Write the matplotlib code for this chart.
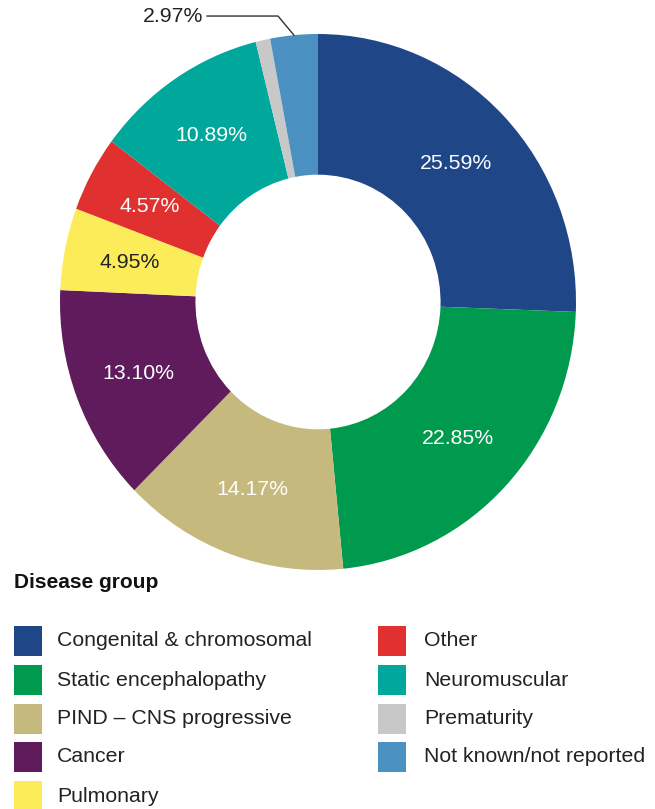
import matplotlib
matplotlib.use('Agg')
import matplotlib.pyplot as plt
import numpy as np
from matplotlib.patches import Rectangle

plt.rcParams['font.family'] = ['Liberation Sans', 'DejaVu Sans']

W, H = 655, 809

groups = ['Congenital & chromosomal', 'Static encephalopathy',
          'PIND \u2013 CNS progressive', 'Cancer', 'Pulmonary', 'Other',
          'Neuromuscular', 'Prematurity', 'Not known/not reported']
shares = [25.59, 22.85, 14.17, 13.10, 4.95, 4.57, 10.89, 0.91, 2.97]
colors = ['#1f4788', '#009a4e', '#c6b97e', '#5f1b5c', '#fcec5a',
          '#e0302f', '#00a89c', '#c8c8c8', '#4a90c0']
label_colors = ['white', 'white', 'white', 'white', '#222222',
                'white', 'white', None, None]


def fx(x):
    return x / W


def fy(y):
    return 1 - y / H


fig = plt.figure(figsize=(W / 100, H / 100), dpi=100)
ax = fig.add_axes([fx(60), fy(570), 516 / W, 536 / H])

wedges, _ = ax.pie(shares, colors=colors, startangle=90, counterclock=False,
                   radius=1, wedgeprops=dict(width=0.525, linewidth=0))
ax.set_aspect('auto')
ax.set_xlim(-1, 1)
ax.set_ylim(-1, 1)
ax.axis('off')

for w, val, lc in zip(wedges, shares, label_colors):
    mid = np.deg2rad((w.theta1 + w.theta2) / 2)
    if lc is not None:
        ax.text(0.745 * np.cos(mid), 0.745 * np.sin(mid), f'{val:.2f}%',
                ha='center', va='center', color=lc, fontsize=15.3)

# outside label for the small "not known" slice
w = wedges[-1]
mid = np.deg2rad((w.theta1 + w.theta2) / 2)
x0, y0 = np.cos(mid), np.sin(mid)
ax.plot([x0, -0.155, -0.43], [y0, 1.067, 1.067], color='#333333', lw=1,
        clip_on=False)
ax.text(-0.445, 1.067, f'{shares[-1]:.2f}%', ha='right', va='center',
        fontsize=15.3, color='#222222')

# legend
fig.text(fx(14), fy(583), 'Disease group', fontsize=15, fontweight='bold',
         ha='left', va='center', color='#111111')
row_y = [641, 680, 719, 757, 796]
for i, (name, col) in enumerate(zip(groups, colors)):
    if i < 5:
        sx, tx, cy = 14, 57, row_y[i]
    else:
        sx, tx, cy = 378, 424, row_y[i - 5]
    fig.patches.append(Rectangle((fx(sx), fy(cy + 15)), 28 / W, 30 / H,
                                 transform=fig.transFigure, facecolor=col,
                                 edgecolor='none'))
    fig.text(fx(tx), fy(cy), name, fontsize=15.3, ha='left', va='center',
             color='#222222')

fig.savefig('out.png', dpi=100)
